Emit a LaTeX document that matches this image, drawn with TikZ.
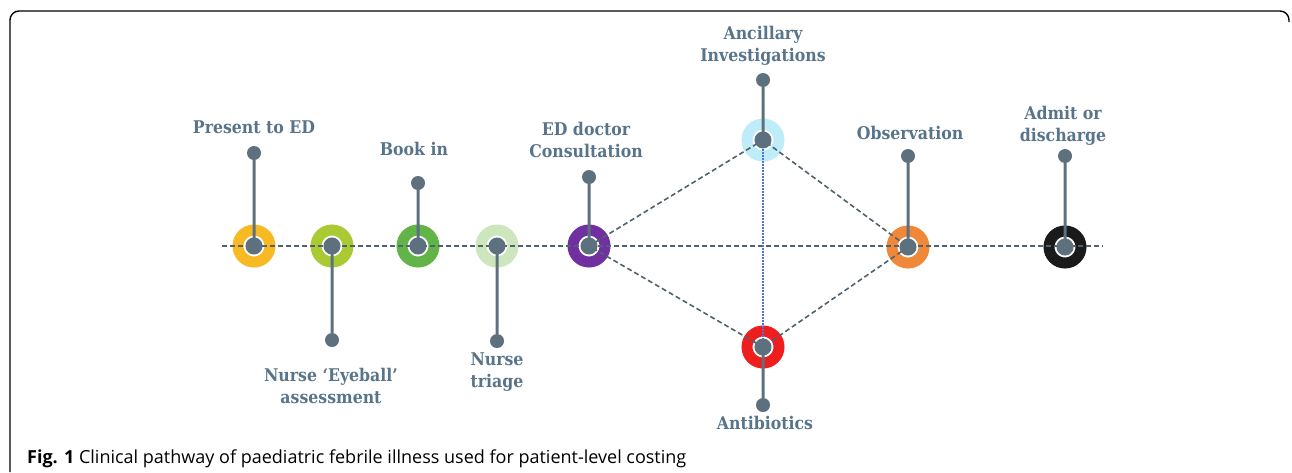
\documentclass[tikz,border=0pt]{standalone}
\usepackage{fontspec}
\setmainfont{DejaVu Serif Condensed}
\newfontfamily\capfont{Open Sans}
\usetikzlibrary{positioning}

\definecolor{slate}{RGB}{92,112,126}
\definecolor{labelgrey}{RGB}{88,116,138}
\definecolor{dashgrey}{RGB}{80,98,110}
\definecolor{ringyellow}{RGB}{248,186,36}
\definecolor{ringlime}{RGB}{170,202,52}
\definecolor{ringgreen}{RGB}{98,180,72}
\definecolor{ringpale}{RGB}{206,230,190}
\definecolor{ringpurple}{RGB}{112,48,160}
\definecolor{ringsky}{RGB}{190,236,248}
\definecolor{ringred}{RGB}{238,30,30}
\definecolor{ringorange}{RGB}{240,136,58}
\definecolor{ringblack}{RGB}{26,26,26}
\definecolor{linkblue}{RGB}{80,115,225}

\begin{document}
\begin{tikzpicture}[x=1pt,y=-1pt,node distance=60pt,on grid,
    ring/.style={circle,draw=#1,line width=11pt,fill=white,minimum size=32pt,inner sep=0pt},
    tip/.style={circle,fill=slate,minimum size=14pt,inner sep=0pt},
    stem/.style={draw=slate,fill=slate,line width=3pt},
    step label/.style={align=center,text=labelgrey,font=\bfseries\fontsize{17.5}{22}\selectfont},
    mainpath/.style={draw=dashgrey,line width=1.6pt,dash pattern=on 5pt off 3pt},
    link/.style={draw=linkblue,line width=1.3pt,dash pattern=on 1.5pt off 1.5pt}]
\useasboundingbox (0,0) rectangle (1292,472);

% frame
\draw[line width=1.4pt,rounded corners=9pt] (10,472) -- (10,11) -- (1289,11) -- (1289,22);

% steps on the main line
\node [ring=ringyellow] (present)  at (254,246)  {};
\node [ring=ringlime]   (eyeball)  at (332,246)  {};
\node [ring=ringgreen]  (bookin)   at (418,246)  {};
\node [ring=ringpale]   (triage)   at (497,246)  {};
\node [ring=ringpurple] (doctor)   at (589,246)  {};
\node [ring=ringsky]    (ancillary) at (763,140) {};
\node [ring=ringred]    (antibiotics) at (763,347) {};
\node [ring=ringorange] (observation) at (908,247) {};
\node [ring=ringblack]  (admit)    at (1065,247) {};

% pathway lines
\coordinate (lineStart) at (222,246);
\coordinate (lineEnd)   at (1103,246);
\draw [mainpath] (lineStart) -- (lineEnd);
\draw [mainpath] (doctor.center) -- (ancillary.center) -- (observation.center)
      -- (antibiotics.center) -- cycle;
\draw [link] (ancillary.center) -- (antibiotics.center);

% stems
\node [tip] (presentTip)     [above=93pt of present]     {};
\node [tip] (eyeballTip)     [below=94pt of eyeball]     {};
\node [tip] (bookinTip)      [above=63pt of bookin]      {};
\node [tip] (triageTip)      [below=95pt of triage]      {};
\node [tip] (doctorTip)      [above=69pt of doctor]      {};
\node [tip] (ancillaryTip)   [above=60pt of ancillary]   {};
\node [tip] (antibioticsTip) [below=58pt of antibiotics] {};
\node [tip] (observationTip) [above=91pt of observation] {};
\node [tip] (admitTip)       [above=91pt of admit]       {};
\foreach \s in {present,eyeball,bookin,triage,doctor,ancillary,antibiotics,observation,admit}
  \filldraw [stem] (\s.center) circle[radius=7] -- (\s Tip);

% labels
\node [step label] (presentLbl)     [above=26pt of presentTip]     {Present to ED};
\node [step label] (eyeballLbl)     [below=46pt of eyeballTip,xshift=-1pt] {Nurse ‘Eyeball’\\assessment};
\node [step label] (bookinLbl)      [above=34pt of bookinTip,xshift=-4pt]  {Book in};
\node [step label] (triageLbl)      [below=31pt of triageTip]      {Nurse\\triage};
\node [step label] (doctorLbl)      [above=37pt of doctorTip,xshift=-3pt]  {ED doctor\\Consultation};
\node [step label] (ancillaryLbl)   [above=34pt of ancillaryTip]   {Ancillary\\Investigations};
\node [step label] (antibioticsLbl) [below=18pt of antibioticsTip,xshift=2pt] {Antibiotics};
\node [step label] (observationLbl) [above=23pt of observationTip,xshift=2pt] {Observation};
\node [step label] (admitLbl)       [above=30pt of admitTip,xshift=-2pt]  {Admit or\\discharge};

% caption
\node [anchor=base west,inner sep=0pt,font=\capfont\fontsize{18}{22}\selectfont] (caption) at (27,463)
  {\textbf{Fig. 1} Clinical pathway of paediatric febrile illness used for patient-level costing};
\end{tikzpicture}
\end{document}
